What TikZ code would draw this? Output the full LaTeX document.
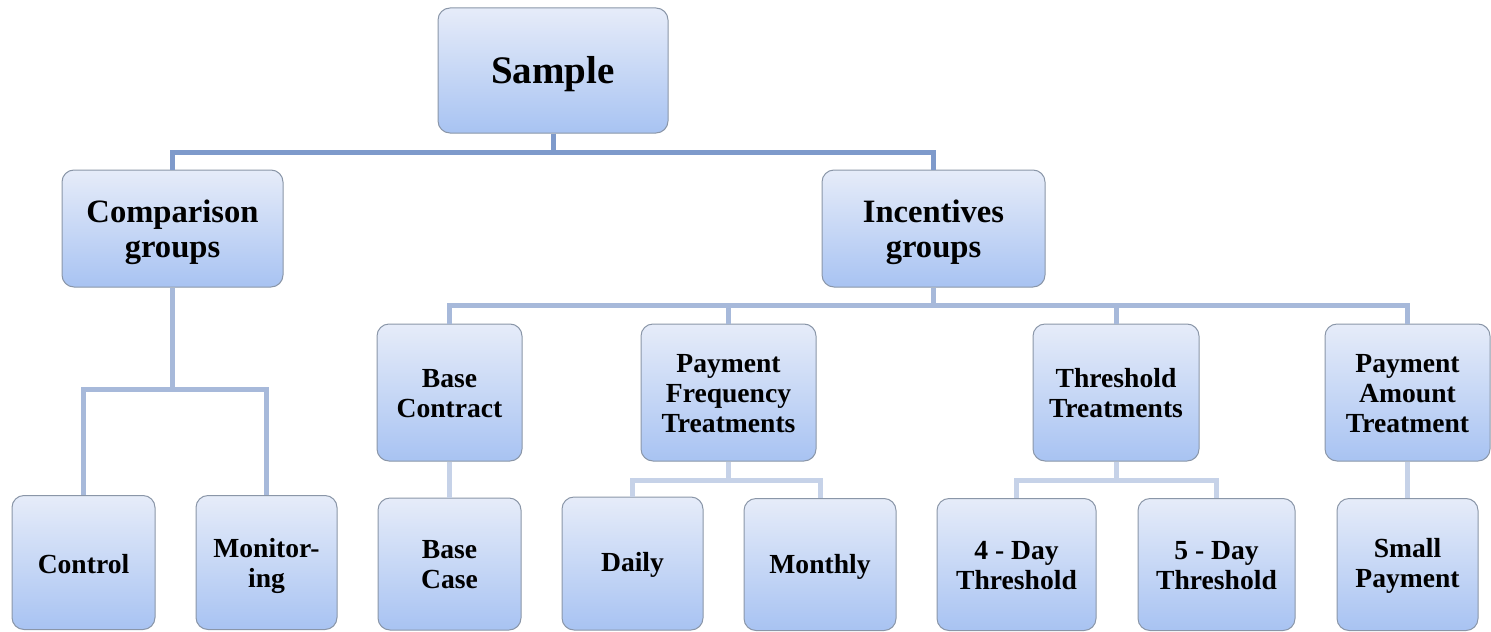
\documentclass[tikz,border=0pt]{standalone}
\usepackage{fontspec}
\setmainfont{Liberation Serif}
\definecolor{boxtop}{HTML}{E6ECF9}
\definecolor{boxbot}{HTML}{A8C3F2}
\definecolor{boxline}{HTML}{8A96A8}
\definecolor{linkA}{HTML}{7E9ACB}
\definecolor{linkB}{HTML}{A7B9DA}
\definecolor{linkC}{HTML}{C6D2E8}
\tikzset{
  box/.style={draw=boxline, line width=0.5pt, rounded corners=6pt,
    top color=boxtop, bottom color=boxbot, inner sep=0pt},
  txt/.style={align=center, inner sep=0pt},
  lA/.style={draw=linkA, line width=2.5pt},
  lB/.style={draw=linkB, line width=2.5pt},
  lC/.style={draw=linkC, line width=2.5pt},
  bigf/.style={font=\fontsize{19.5}{22}\selectfont\bfseries},
  midf/.style={font=\fontsize{16.3}{17.5}\selectfont\bfseries},
  smf/.style={font=\fontsize{13.8}{15}\selectfont\bfseries},
}
\begin{document}
\begin{tikzpicture}[x=0.5pt,y=-0.5pt]
\useasboundingbox (0,0) rectangle (1491,631);
% top
\node[box,minimum width=115pt,minimum height=62.5pt] (s) at (553,70.5) {};
% level 1
\node[box,minimum width=110.5pt,minimum height=58.5pt] (cg) at (172.5,228.5) {};
\node[box,minimum width=111.5pt,minimum height=58.5pt] (ig) at (933.5,228.5) {};
% level 2
\node[box,minimum width=72.5pt,minimum height=68.5pt] (bc) at (449.5,392.5) {};
\node[box,minimum width=87.5pt,minimum height=68.5pt] (pf) at (728.5,392.5) {};
\node[box,minimum width=83pt,minimum height=68.5pt] (tt) at (1116,392.5) {};
\node[box,minimum width=82.5pt,minimum height=68.5pt] (pa) at (1407.5,392.5) {};
% level 3
\node[box,minimum width=71.5pt,minimum height=67pt] (ct) at (83.5,562.5) {};
\node[box,minimum width=70.5pt,minimum height=67pt] (mo) at (266.5,562.5) {};
\node[box,minimum width=71.5pt,minimum height=66pt] (bs) at (449.5,564) {};
\node[box,minimum width=70.5pt,minimum height=66.5pt] (da) at (632.5,563.5) {};
\node[box,minimum width=76pt,minimum height=66pt] (mn) at (820,564.5) {};
\node[box,minimum width=79.5pt,minimum height=66pt] (d4) at (1016.5,564.5) {};
\node[box,minimum width=78.5pt,minimum height=66pt] (d5) at (1216.5,564.5) {};
\node[box,minimum width=70.5pt,minimum height=66pt] (sp) at (1407.5,564.5) {};
% texts
\node[txt,bigf] (ts) at ([yshift=-2pt]s.center) {Sample};
\node[txt,midf] (tcg) at ([yshift=-2pt]cg.center) {Comparison\\groups};
\node[txt,midf] (tig) at ([yshift=-2pt]ig.center) {Incentives\\groups};
\node[txt,smf] (tbc) at ([yshift=-0.5pt]bc.center) {Base\\Contract};
\node[txt,smf] (tpf) at ([yshift=-0.5pt]pf.center) {Payment\\Frequency\\Treatments};
\node[txt,smf] (ttt) at ([yshift=-0.5pt]tt.center) {Threshold\\Treatments};
\node[txt,smf] (tpa) at ([yshift=-0.5pt]pa.center) {Payment\\Amount\\Treatment};
\node[txt,smf] (tct) at ([yshift=-1pt]ct.center) {Control};
\node[txt,smf] (tmo) at ([yshift=-1.5pt]mo.center) {Monitor-\\ing};
\node[txt,smf] (tbs) at ([yshift=-0.5pt]bs.center) {Base\\Case};
\node[txt,smf] (tda) at ([yshift=-0.5pt]da.center) {Daily};
\node[txt,smf] (tmn) at ([yshift=-1pt]mn.center) {Monthly};
\node[txt,smf] (td4) at ([yshift=-0.5pt]d4.center) {4 - Day\\Threshold};
\node[txt,smf] (td5) at ([yshift=-0.5pt]d5.center) {5 - Day\\Threshold};
\node[txt,smf] (tsp) at ([yshift=-0.5pt]sp.center) {Small\\Payment};
% connectors
\coordinate (j0) at (553,152);
\draw[lA] (s.south) -- (j0);
\draw[lA] (cg.north) |- (j0) -| (ig.north);
\coordinate (j1) at (172.5,389);
\draw[lB] (cg.south) -- (j1);
\draw[lB] (ct.north) |- (j1) -| (mo.north);
\coordinate (j2) at (933.5,305);
\draw[lB] (ig.south) -- (j2);
\draw[lB] (bc.north) |- (j2) -| (pa.north);
\draw[lB] (pf.north) -- (pf.north |- j2);
\draw[lB] (tt.north) -- (tt.north |- j2);
\draw[lC] (bc.south) -- (bs.north);
\coordinate (j3) at (728.5,480);
\draw[lC] (pf.south) -- (j3);
\draw[lC] (da.north) |- (j3) -| (mn.north);
\coordinate (j4) at (1116,480);
\draw[lC] (tt.south) -- (j4);
\draw[lC] (d4.north) |- (j4) -| (d5.north);
\draw[lC] (pa.south) -- (sp.north);
\end{tikzpicture}
\end{document}
